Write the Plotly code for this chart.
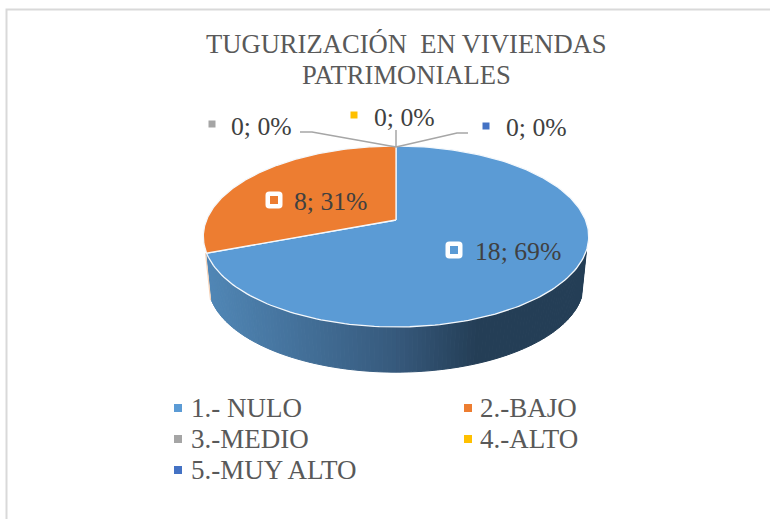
import numpy as np
import plotly.graph_objects as go

categories = ["1.- NULO", "2.-BAJO", "3.-MEDIO", "4.-ALTO", "5.-MUY ALTO"]
values = [18, 8, 0, 0, 0]
colors = ["#5B9BD5", "#ED7D31", "#A5A5A5", "#FFC000", "#4472C4"]
title_lines = ["TUGURIZACIÓN \u00a0EN VIVIENDAS", "PATRIMONIALES"]

W, H = 770, 519
FONT = "Liberation Serif"
# 3D-pie projection (pixel frame of the figure)
CX, APEX_Y, A, B, K = 396.0, 220.0, 189.5, 87.5, 0.182
LOW_APEX_Y, LOW_A, LOW_B = 268.0, 184.5, 85.2
WALL_START = 108.8

def project(theta_deg, apex_y=APEX_Y, a=A, b=B):
    t = np.radians(theta_deg)
    X, Y = np.sin(t), np.cos(t)
    d = 1 + K * Y
    return CX + a * X / d, apex_y - b * Y / d

def wall_color(x):
    stops_x = [207, 396, 477, 590]
    r = np.interp(x, stops_x, [80, 54, 36, 36])
    g = np.interp(x, stops_x, [134, 89, 62, 62])
    b = np.interp(x, stops_x, [181, 124, 86, 86])
    return f"rgb({r:.0f},{g:.0f},{b:.0f})"

total = sum(values)
edges = np.concatenate([[0], np.cumsum(values) / total * 360])
fig = go.Figure()

# side wall of the first slice, drawn as narrow gradient strips
wall = np.linspace(WALL_START, edges[1], 131)
for t0, t1 in zip(wall[:-1], wall[1:]):
    x0, y0 = project(t0)
    x1, y1 = project(t1)
    x2, y2 = project(t1, LOW_APEX_Y, LOW_A, LOW_B)
    x3, y3 = project(t0, LOW_APEX_Y, LOW_A, LOW_B)
    c = wall_color((x0 + x1) / 2)
    fig.add_trace(go.Scatter(x=[x0, x1, x2, x3, x0], y=[y0, y1, y2, y3, y0], mode="lines",
                             fill="toself", fillcolor=c, line=dict(color=c, width=1),
                             hoverinfo="skip", showlegend=False))

# thin pale edge of the second slice wall
sx0, sy0 = project(edges[1])
sx1, sy1 = project(edges[1], LOW_APEX_Y, LOW_A, LOW_B)
fig.add_trace(go.Scatter(x=[sx0 - 1, sx1 - 1], y=[sy0, sy1], mode="lines",
                         line=dict(color="#F6D3B8", width=1.2), hoverinfo="skip", showlegend=False))

# top face
for i, v in enumerate(values):
    if v == 0:
        continue
    th = np.linspace(edges[i], edges[i + 1], 200)
    px, py = project(th)
    fig.add_trace(go.Scatter(x=np.r_[CX, px, CX], y=np.r_[APEX_Y, py, APEX_Y], mode="lines",
                             fill="toself", fillcolor=colors[i],
                             line=dict(color="#F4F8FC", width=1.3),
                             name=categories[i], hoverinfo="name", showlegend=False))

def ring_path(cx, cy, h=6.25, r=1.5):
    l, rt, t, bt = cx - h, cx + h, cy - h, cy + h
    return (f"M {l + r} {t} L {rt - r} {t} Q {rt} {t} {rt} {t + r} L {rt} {bt - r} Q {rt} {bt} {rt - r} {bt} "
            f"L {l + r} {bt} Q {l} {bt} {l} {bt - r} L {l} {t + r} Q {l} {t} {l + r} {t} Z")

# data labels
label_pos = [(454, 250, 473, 251), (274, 200, 292, 201), (212, 124, 229, 126),
             (354, 115, 372, 117), (486, 126, 504, 127)]
annotations = []
shapes = [dict(type="rect", x0=6.5, y0=9.5, x1=790, y1=540, line=dict(color="#D9D9D9", width=2), layer="below")]
for i, (ix, iy, tx, ty) in enumerate(label_pos):
    pct = round(values[i] / total * 100)
    if values[i] > 0:
        shapes.append(dict(type="path", path=ring_path(ix, iy), line=dict(color="white", width=4.5)))
    else:
        fig.add_trace(go.Scatter(x=[ix], y=[iy], mode="markers", hoverinfo="skip", showlegend=False,
                                 marker=dict(symbol="square", size=7, color=colors[i])))
    annotations.append(dict(x=tx, y=ty, xref="x", yref="y", xanchor="left", yanchor="middle",
                            text=f"{values[i]}; {pct}%", showarrow=False,
                            font=dict(family=FONT, size=25.7, color="#404040")))

# legend
legend_pos = [(178, 189, 408), (468, 478, 408), (178, 189, 439), (468, 478, 439), (178, 189, 470)]
for i, (ix, tx, y) in enumerate(legend_pos):
    fig.add_trace(go.Scatter(x=[ix], y=[y], mode="markers", hoverinfo="skip", showlegend=False,
                             marker=dict(symbol="square", size=8, color=colors[i])))
    annotations.append(dict(x=tx, y=y, xref="x", yref="y", xanchor="left", yanchor="middle",
                            text=categories[i], showarrow=False,
                            font=dict(family=FONT, size=27, color="#595959")))

for line, y in zip(title_lines, [44, 75]):
    annotations.append(dict(x=406.5, y=y, xref="x", yref="y", xanchor="center", yanchor="middle",
                            text=line, showarrow=False,
                            font=dict(family=FONT, size=26.6, color="#595959")))

leader = dict(type="path", line=dict(color="#A6A6A6", width=1.5))
shapes += [
    dict(leader, path="M 300 132 L 312 132 L 396 147"),
    dict(leader, path="M 396 130 L 396 147"),
    dict(leader, path="M 468 133 L 457 133 L 396 147"),
]

fig.update_layout(
    width=W, height=H, margin=dict(l=0, r=0, t=0, b=0),
    paper_bgcolor="white", plot_bgcolor="white", showlegend=False,
    xaxis=dict(range=[0, W], visible=False, fixedrange=True),
    yaxis=dict(range=[H, 0], visible=False, fixedrange=True),
    annotations=annotations, shapes=shapes,
)
fig.write_html("out.html", config=dict(displayModeBar=False),
               post_script="document.body.style.margin='0';document.documentElement.style.overflow='hidden';")
